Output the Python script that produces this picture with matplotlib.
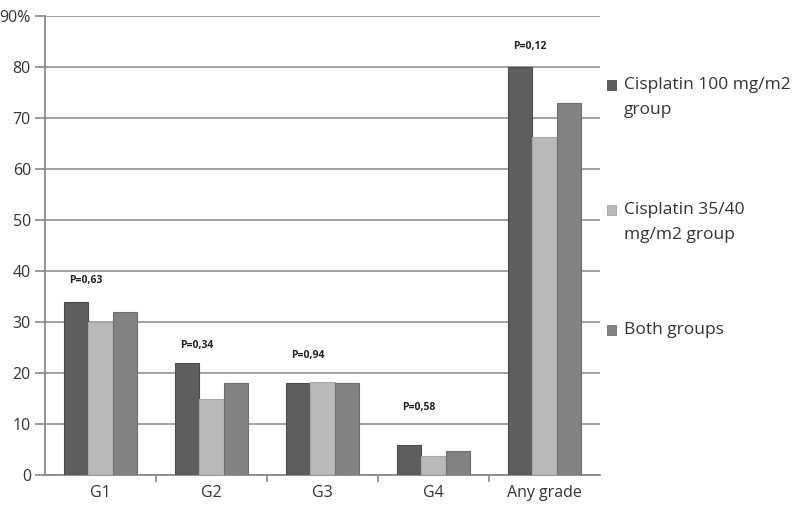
import matplotlib.pyplot as plt
import matplotlib.patches as mpatches
import numpy as np

categories = ['G1', 'G2', 'G3', 'G4', 'Any grade']
high_dose = [34, 22, 18, 6, 80]
low_dose = [30, 15, 18.3, 3.7, 66.3]
both = [32, 18, 18, 4.7, 73]
p_values = ['P=0,63', 'P=0,34', 'P=0,94', 'P=0,58', 'P=0,12']
p_heights = [38.2, 25.5, 23.5, 13.3, 84]

series_names = ['Cisplatin 100 mg/m2\ngroup', 'Cisplatin 35/40\nmg/m2 group', 'Both groups']
colors = ['#5e5e5e', '#b9b9b9', '#828282']
edges = ['#4a4a4a', '#a8a8a8', '#6e6e6e']

plt.rcParams['font.family'] = ['Open Sans', 'DejaVu Sans']

W, H = 800, 517
fig = plt.figure(figsize=(W / 100, H / 100), dpi=100)
ax = fig.add_axes([0.056, 0.081, 0.694, 0.888])

x = np.arange(len(categories))
w = 0.22
for i, vals in enumerate([high_dose, low_dose, both]):
    ax.bar(x + (i - 1) * w, vals, width=w, color=colors[i], edgecolor=edges[i],
           linewidth=0.8, zorder=3)

for xi, txt, yv in zip(x, p_values, p_heights):
    ax.text(xi - 0.13, yv, txt, ha='center', va='center', fontsize=7.5,
            fontweight='bold', color='#222222')

ax.set_xlim(-0.5, len(categories) - 0.5)
ax.set_ylim(0, 90)
ax.set_yticks(range(0, 91, 10))
ax.set_yticklabels([str(v) for v in range(0, 90, 10)] + ['90%'])
ax.yaxis.grid(True, color='#9a9a9a', linewidth=1.3, zorder=0)
ax.set_axisbelow(True)

ax.set_xticks(x)
ax.set_xticklabels(categories)
ax.set_xticks(np.arange(0.5, len(categories) - 0.5, 1), minor=True)
ax.tick_params(axis='x', which='major', length=0, pad=7, labelsize=11.5, colors='#333333')
ax.tick_params(axis='x', which='minor', length=5, color='#888888', width=1.2)
ax.tick_params(axis='y', length=7, color='#888888', width=1.2, pad=3, labelsize=11.5,
               labelcolor='#333333')

for s in ['top', 'right']:
    ax.spines[s].set_visible(False)
for s in ['left', 'bottom']:
    ax.spines[s].set_color('#8a8a8a')
    ax.spines[s].set_linewidth(1.3)

# legend drawn by hand: marker sits on the first text line, wide line spacing
legend_tops = [85, 210, 330]
for name, col, ec, ytop in zip(series_names, colors, edges, legend_tops):
    fig.patches.append(mpatches.Rectangle(((607) / W, 1 - (ytop + 5) / H), 9 / W, 10 / H,
                                          transform=fig.transFigure, facecolor=col,
                                          edgecolor=ec, linewidth=0.6))
    for k, line in enumerate(name.split('\n')):
        fig.text(624 / W, 1 - (ytop + 25 * k) / H, line, ha='left', va='center',
                 fontsize=12.5, color='#333333')

fig.savefig('out.png', dpi=100)
